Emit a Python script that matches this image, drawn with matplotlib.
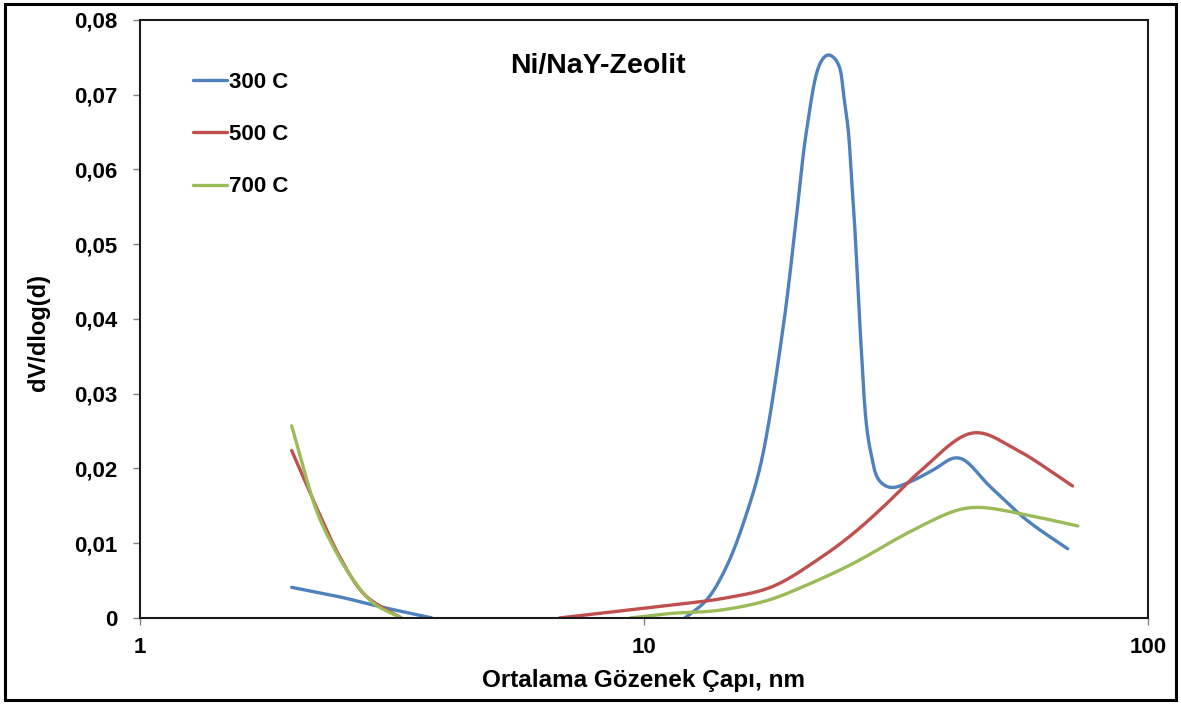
import matplotlib.pyplot as plt
import numpy as np
from matplotlib.patches import Rectangle
from matplotlib.ticker import FixedLocator, FuncFormatter, NullLocator

plt.rcParams['font.family'] = ['Liberation Sans', 'DejaVu Sans']
plt.rcParams['font.weight'] = 'bold'

# pore diameter (nm) and dV/dlog(d) for each calcination temperature, split where the curve sits on zero
d_300_a = [2.0, 2.5, 3.0, 3.8]
v_300_a = [0.0041, 0.0028, 0.0015, 0.0]
d_300_b = [12.06, 13.32, 14.59, 15.99, 17.12, 18.90, 19.94, 21.03, 22.35, 23.21, 24.29, 24.93, 25.43, 25.83,
           26.22, 26.83, 27.66, 28.30, 29.17, 30.77, 33.71, 37.50, 42.03, 48.58, 57.45, 69.50]
v_300_b = [0.0, 0.0024, 0.0069, 0.0140, 0.0211, 0.0390, 0.0519, 0.0653, 0.0742, 0.0755, 0.0742, 0.0697, 0.0653, 0.0586,
           0.0519, 0.0390, 0.0256, 0.0216, 0.0185, 0.0174, 0.0182, 0.0198, 0.0215, 0.0176, 0.0131, 0.0092]

d_500_a = [2.0, 2.25, 2.5, 2.8, 3.3]
v_500_a = [0.0224, 0.0145, 0.0080, 0.0030, 0.0]
d_500_b = [6.8, 11.26, 14.6, 18.0, 22.35, 26.02, 30.31, 35.29, 45.02, 54.89, 71.10]
v_500_b = [0.0, 0.0017, 0.0027, 0.0042, 0.0080, 0.0113, 0.0153, 0.0196, 0.0248, 0.0225, 0.0176]

d_700_a = [2.0, 2.24, 2.42, 2.65, 2.9, 3.3]
v_700_a = [0.0257, 0.0144, 0.0095, 0.0051, 0.0020, 0.0]
d_700_b = [9.4, 11.26, 14.0, 17.5, 20.71, 26.02, 33.20, 41.73, 46.41, 59.21, 72.71]
v_700_b = [0.0, 0.0006, 0.0010, 0.0023, 0.0042, 0.0073, 0.0113, 0.0144, 0.0148, 0.0136, 0.0123]

labels = ['300 C', '500 C', '700 C']
colors = ['#4F81BD', '#C0504D', '#9BBB59']
y_ticks = [0, 0.01, 0.02, 0.03, 0.04, 0.05, 0.06, 0.07, 0.08]
x_ticks = [1, 10, 100]

Y_SCALE = 14.83  # one decade of x is as long on screen as 0.0674 of y


def catmull_rom(u, w, n=40):
    # centripetal Catmull-Rom through the points, done in screen-like units so steep flanks stay smooth
    P = np.column_stack([u, w])
    P = np.vstack([2 * P[0] - P[1], P, 2 * P[-1] - P[-2]])
    out = []
    for i in range(len(P) - 3):
        p0, p1, p2, p3 = P[i:i + 4]
        t0 = 0.0
        t1 = t0 + np.linalg.norm(p1 - p0) ** 0.5
        t2 = t1 + np.linalg.norm(p2 - p1) ** 0.5
        t3 = t2 + np.linalg.norm(p3 - p2) ** 0.5
        t = np.linspace(t1, t2, n)[:, None]
        a1 = (t1 - t) / (t1 - t0) * p0 + (t - t0) / (t1 - t0) * p1
        a2 = (t2 - t) / (t2 - t1) * p1 + (t - t1) / (t2 - t1) * p2
        a3 = (t3 - t) / (t3 - t2) * p2 + (t - t2) / (t3 - t2) * p3
        b1 = (t2 - t) / (t2 - t0) * a1 + (t - t0) / (t2 - t0) * a2
        b2 = (t3 - t) / (t3 - t1) * a2 + (t - t1) / (t3 - t1) * a3
        c = (t2 - t) / (t2 - t1) * b1 + (t - t1) / (t2 - t1) * b2
        out.append(c if i == 0 else c[1:])
    return np.vstack(out)


def soften(curve, step=0.002, sigma=4.0):
    # resample by arc length (about one pixel per step) and blur lightly to iron out small kinks
    seg = np.hypot(*np.diff(curve, axis=0).T)
    s = np.concatenate([[0], np.cumsum(seg)])
    ss = np.arange(0, s[-1], step)
    pts = np.column_stack([np.interp(ss, s, curve[:, 0]), np.interp(ss, s, curve[:, 1])])
    k = np.arange(-int(3 * sigma), int(3 * sigma) + 1)
    g = np.exp(-0.5 * (k / sigma) ** 2)
    g /= g.sum()
    pad = len(k) // 2
    padded = np.vstack([np.repeat(pts[:1], pad, 0), pts, np.repeat(pts[-1:], pad, 0)])
    sm = np.column_stack([np.convolve(padded[:, 0], g, 'valid'), np.convolve(padded[:, 1], g, 'valid')])
    sm[0], sm[-1] = pts[0], pts[-1]
    return sm


def smooth_line(ax, d, v, color, label=None):
    c = soften(catmull_rom(np.log10(d), np.asarray(v) * Y_SCALE))
    ax.plot(10**c[:, 0], c[:, 1] / Y_SCALE, color=color, lw=2.4, label=label, solid_capstyle='round')


fig = plt.figure(figsize=(11.81, 7.04), dpi=100)
ax = fig.add_axes([0.1185, 0.1222, 0.8535, 0.8494])

series = [(d_300_a, v_300_a, d_300_b, v_300_b),
          (d_500_a, v_500_a, d_500_b, v_500_b),
          (d_700_a, v_700_a, d_700_b, v_700_b)]
for (da, va, db, vb), lab, col in zip(series, labels, colors):
    smooth_line(ax, da, va, col, lab)
    smooth_line(ax, db, vb, col)

ax.set_xscale('log')
ax.set_xlim(1, 100)
ax.set_ylim(0, 0.08)
ax.xaxis.set_major_locator(FixedLocator(x_ticks))
ax.xaxis.set_minor_locator(NullLocator())
ax.xaxis.set_major_formatter(FuncFormatter(lambda v, p: '%d' % v))
ax.set_yticks(y_ticks)
ax.yaxis.set_major_formatter(FuncFormatter(lambda v, p: '0' if v == 0 else ('%.2f' % v).replace('.', ',')))
ax.tick_params(axis='both', direction='out', length=5, width=1, color='#808080', labelsize=16)
ax.tick_params(axis='y', pad=11)
ax.tick_params(axis='x', pad=9)
for s in ax.spines.values():
    s.set_linewidth(1.5)
    s.set_color('#1a1a1a')

ax.set_xlabel('Ortalama Gözenek Çapı, nm', fontsize=17.5, fontweight='bold')
ax.xaxis.set_label_coords(0.5, -0.085)
ax.set_ylabel('dV/dlog(d)', fontsize=17, fontweight='bold')
ax.yaxis.set_label_coords(-0.089, 0.478)
ax.text(0.454, 0.911, 'Ni/NaY-Zeolit', transform=ax.transAxes, ha='center', va='baseline',
        fontsize=20.5, fontweight='bold')

leg = ax.legend(loc='upper left', bbox_to_anchor=(0.033, 0.947), frameon=False, fontsize=16,
                handlelength=1.53, handletextpad=0.08, labelspacing=1.41)
for t in leg.get_texts():
    t.set_fontweight('bold')

# outer frame around the whole figure
fig.patches.append(Rectangle((0.004, 0.005), 0.992, 0.99, transform=fig.transFigure,
                             fill=False, edgecolor='black', linewidth=2.2))

fig.savefig('out.png', dpi=100)
